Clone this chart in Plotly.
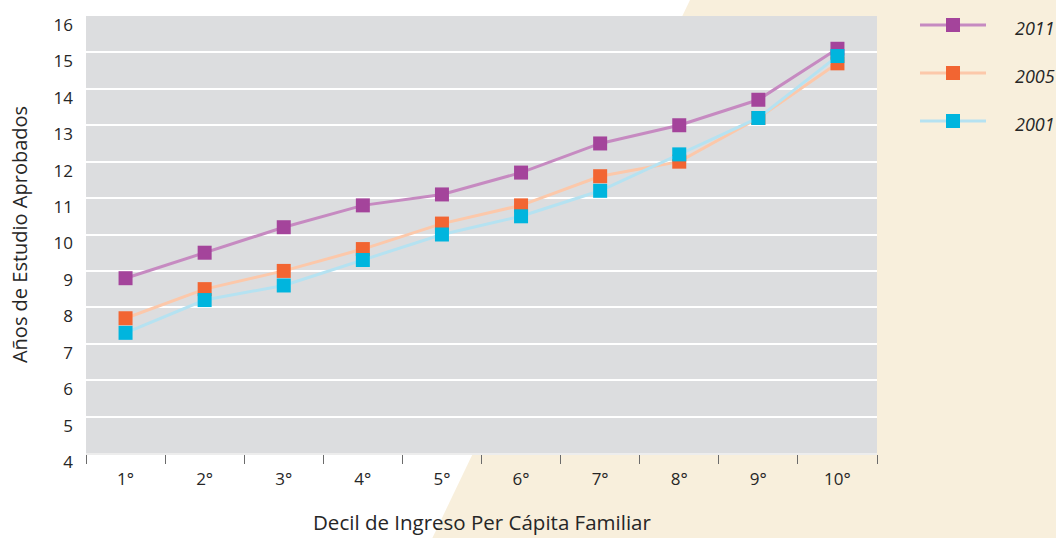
import plotly.graph_objects as go

# Income deciles and average years of schooling per survey year
deciles = ["1°", "2°", "3°", "4°", "5°", "6°", "7°", "8°", "9°", "10°"]
anios_2011 = [8.8, 9.5, 10.2, 10.8, 11.1, 11.7, 12.5, 13.0, 13.7, 15.1]
anios_2005 = [7.7, 8.5, 9.0, 9.6, 10.3, 10.8, 11.6, 12.0, 13.2, 14.7]
anios_2001 = [7.3, 8.2, 8.6, 9.3, 10.0, 10.5, 11.2, 12.2, 13.2, 14.9]
y_ticks = list(range(4, 17))

series = [
    ("2011", anios_2011, "#a4449b", "#c68ac1"),
    ("2005", anios_2005, "#f26532", "#fcc8aa"),
    ("2001", anios_2001, "#00b5de", "#b5e2f1"),
]

W, H = 1056, 538
L, R, T, B = 86, 877, 16, 453
FONT = "Open Sans"
TXT = "#262626"


def px_x(px):
    return (px - L) / (R - L)


def px_y(py):
    return (B - py) / (B - T)


fig = go.Figure()
for name, vals, mcol, lcol in series:
    fig.add_trace(go.Scatter(
        x=deciles, y=vals, name=name, mode="lines+markers",
        line=dict(color=lcol, width=3),
        marker=dict(symbol="square", size=14, color=mcol, line=dict(width=0)),
        showlegend=False,
    ))

shapes = []
# beige diagonal panel behind the chart
shapes.append(dict(
    type="path", xref="paper", yref="paper", layer="below", line=dict(width=0),
    fillcolor="#f8efdc",
    path=(f"M{px_x(690)},{px_y(0)} L{px_x(W + 5)},{px_y(0)} "
          f"L{px_x(W + 5)},{px_y(H + 5)} L{px_x(430)},{px_y(H + 5)} Z"),
))
# grey plotting area
shapes.append(dict(
    type="rect", xref="paper", yref="paper", layer="below", line=dict(width=0),
    fillcolor="#dcdddf", x0=0, x1=1, y0=0, y1=1,
))

annotations = []
# hand-built legend on the right
leg_rows = [25, 73, 121]
for (name, vals, mcol, lcol), ry in zip(series, leg_rows):
    shapes.append(dict(
        type="line", xref="paper", yref="paper", layer="above",
        x0=px_x(920), x1=px_x(986), y0=px_y(ry), y1=px_y(ry),
        line=dict(color=lcol, width=3),
    ))
    shapes.append(dict(
        type="rect", xref="paper", yref="paper", layer="above",
        xsizemode="pixel", ysizemode="pixel",
        xanchor=px_x(953), yanchor=px_y(ry),
        x0=-7, x1=7, y0=-7, y1=7, fillcolor=mcol, line=dict(width=0),
    ))
    annotations.append(dict(
        xref="paper", yref="paper", x=px_x(1013), y=px_y(ry + 3),
        xanchor="left", yanchor="middle", showarrow=False,
        text=f"<i>{name}</i>", font=dict(family=FONT, size=18, color=TXT),
    ))

# x-axis title, sitting low against the bottom edge
annotations.append(dict(
    xref="paper", yref="paper", x=0.5, y=px_y(522),
    xanchor="center", yanchor="middle", showarrow=False,
    text="Decil de Ingreso Per Cápita Familiar",
    font=dict(family=FONT, size=20.5, color=TXT),
))

fig.update_layout(
    width=W, height=H,
    margin=dict(l=L, r=W - R, t=T, b=H - B, pad=0),
    paper_bgcolor="white", plot_bgcolor="#dcdddf",
    font=dict(family=FONT, color=TXT),
    shapes=shapes, annotations=annotations,
    xaxis=dict(
        type="category", range=[-0.5, 9.5], tickson="boundaries",
        ticks="outside", ticklen=9, tickwidth=1, tickcolor="#6b6b6b",
        showgrid=False, showline=True, linecolor="#ededed", linewidth=2,
        tickfont=dict(size=17, color=TXT), ticklabelstandoff=10,
        automargin=False, fixedrange=True,
    ),
    yaxis=dict(
        range=[4, 16], tickvals=y_ticks, ticktext=[str(v) for v in y_ticks],
        showgrid=True, gridcolor="white", gridwidth=1.5, zeroline=False,
        ticks="", tickfont=dict(size=17, color=TXT),
        ticklabelshift=9, ticklabelstandoff=12,
        title=dict(text="Años de Estudio Aprobados",
                   font=dict(size=20, color=TXT), standoff=20),
        automargin=False, fixedrange=True,
    ),
)

fig.write_html("out.html")
